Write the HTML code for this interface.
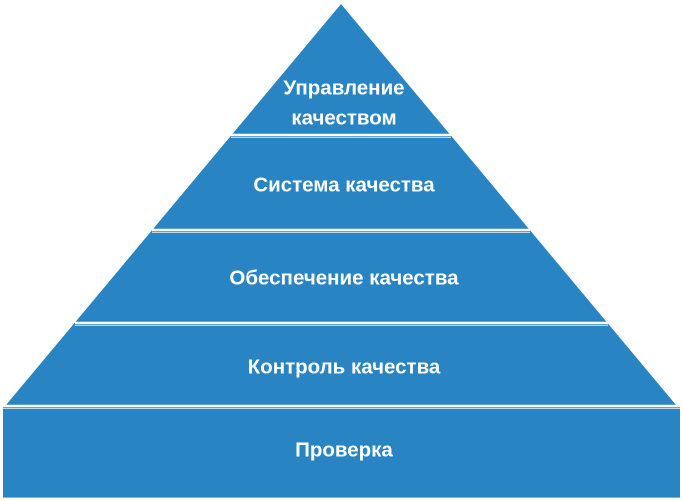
<!DOCTYPE html>
<html><head><meta charset="utf-8"><style>
html,body{margin:0;padding:0;background:#fff;width:683px;height:501px;overflow:hidden}
svg{display:block}
text{font-family:"Liberation Sans",sans-serif;font-weight:bold;font-size:20.5px;fill:#fff;text-anchor:middle;dominant-baseline:central}
</style></head><body>
<svg width="683" height="501" viewBox="0 0 683 501">
<polygon points="341,4 676,405 6,405" fill="#2884c2"/>
<rect x="3" y="406" width="677" height="91" fill="#2884c2"/>
<line x1="3" y1="497.5" x2="680" y2="497.5" stroke="#9ab" stroke-width="1"/>
<g stroke="#fff" stroke-width="2.5">
<line x1="231" y1="135" x2="451" y2="135"/>
<line x1="152" y1="230" x2="530" y2="230"/>
<line x1="75" y1="323" x2="608" y2="323"/>
<line x1="3" y1="406" x2="680" y2="406"/>
</g>
<g stroke="#bcd8ec" stroke-width="1">
<line x1="231" y1="137.5" x2="451" y2="137.5"/>
<line x1="152" y1="232.5" x2="530" y2="232.5"/>
<line x1="75" y1="325.5" x2="608" y2="325.5"/>
<line x1="3" y1="408.5" x2="680" y2="408.5"/>
</g>
<text x="344" y="88">Управление</text>
<text x="344" y="118">качеством</text>
<text x="344" y="185">Система качества</text>
<text x="344" y="278">Обеспечение качества</text>
<text x="344" y="367">Контроль качества</text>
<text x="344" y="450">Проверка</text>
</svg>
</body></html>
